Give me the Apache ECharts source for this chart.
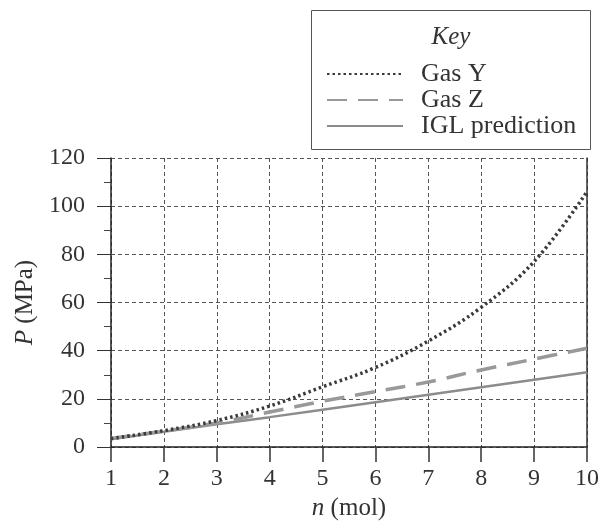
<!DOCTYPE html>
<html>
<head>
<meta charset="utf-8">
<script src="https://cdn.jsdelivr.net/npm/echarts@6/dist/echarts.min.js"></script>
<style>html,body{margin:0;padding:0;background:#fff}#c{width:602px;height:531px}</style>
</head>
<body>
<div id="c"></div>
<script>
const nMol = [1, 2, 3, 4, 5, 6, 7, 8, 9, 10];
const gasY = [3.5, 6.8, 11, 17, 25, 33, 44, 58, 77, 106];
const gasZ = [3.5, 6.6, 10, 14.5, 19, 23, 27, 32, 36.5, 41];
const igl  = [3.2, 6.3, 9.4, 12.4, 15.5, 18.6, 21.7, 24.8, 27.9, 31];
const seriesNames = ['Gas Y', 'Gas Z', 'IGL prediction'];
const xTicks = [1, 10, 1];
const yTicks = [0, 120, 20];

const pairs = v => nMol.map((n, i) => [n, v[i]]);
const serif = '"Liberation Serif", "DejaVu Serif", serif';

const chart = echarts.init(document.getElementById('c'));
chart.setOption({
  animation: false,
  backgroundColor: '#fff',
  textStyle: { fontFamily: serif },
  grid: { left: 111, right: 14, top: 158, bottom: 84 },
  title: {
    text: 'Key', left: 451, top: 25, textAlign: 'center', padding: 0,
    textStyle: { fontFamily: serif, fontStyle: 'italic', fontWeight: 'normal', fontSize: 25, color: '#333' }
  },
  graphic: [{
    type: 'rect', shape: { x: 311.5, y: 10.5, width: 279, height: 139 },
    style: { fill: '#fff', stroke: '#555', lineWidth: 1 }, z: -1
  }],
  legend: {
    orient: 'vertical', left: 326, top: 61, padding: 0,
    itemWidth: 76, itemHeight: 16, itemGap: 0,
    data: seriesNames,
    itemStyle: { color: 'rgba(0,0,0,0)', borderWidth: 0, opacity: 0 },
    textStyle: { fontFamily: serif, fontSize: 26, color: '#333', padding: [0, 0, 0, 13] }
  },
  xAxis: {
    type: 'value', min: xTicks[0], max: xTicks[1], interval: xTicks[2],
    name: '{i|n} (mol)', nameLocation: 'middle', nameGap: 44,
    nameTextStyle: { fontFamily: serif, fontSize: 25, color: '#333',
      rich: { i: { fontFamily: serif, fontStyle: 'italic', fontSize: 25, color: '#333' } } },
    axisLine: { lineStyle: { color: '#222', width: 1.5 } },
    axisTick: { length: 15, lineStyle: { color: '#333', width: 1.5 } },
    axisLabel: { margin: 20, fontFamily: serif, fontSize: 24, color: '#333' },
    splitLine: { show: true, lineStyle: { color: '#555', width: 1, type: [4, 3] } }
  },
  yAxis: [{
    type: 'value', min: yTicks[0], max: yTicks[1], interval: yTicks[2],
    name: '{i|P} (MPa)', nameLocation: 'middle', nameGap: 73, nameRotate: 90,
    nameTextStyle: { fontFamily: serif, fontSize: 25, color: '#333',
      rich: { i: { fontFamily: serif, fontStyle: 'italic', fontSize: 25, color: '#333' } } },
    axisLine: { show: true, lineStyle: { color: '#222', width: 1.5 } },
    axisTick: { show: true, length: 14, lineStyle: { color: '#333', width: 1 } },
    minorTick: { show: true, splitNumber: 2, length: 7, lineStyle: { color: '#444' } },
    axisLabel: { margin: 26, fontFamily: serif, fontSize: 24, color: '#333' },
    splitLine: { show: true, lineStyle: { color: '#555', width: 1, type: [4, 3] } }
  }, {
    type: 'value', position: 'right', min: yTicks[0], max: yTicks[1], interval: yTicks[2],
    axisLine: { show: true, lineStyle: { color: '#333', width: 1.5 } },
    axisTick: { show: false }, axisLabel: { show: false }, splitLine: { show: false }
  }],
  series: [
    { name: seriesNames[0], type: 'line', data: pairs(gasY), smooth: 0.4, symbol: 'none',
      lineStyle: { color: '#3a3a3a', width: 3.5, type: [2.5, 3] }, itemStyle: { color: '#3a3a3a' }, z: 5 },
    { name: seriesNames[1], type: 'line', data: pairs(gasZ), smooth: 0.4, symbol: 'none',
      lineStyle: { color: '#999', width: 3.5, type: [20, 11] }, itemStyle: { color: '#999' }, z: 4 },
    { name: seriesNames[2], type: 'line', data: pairs(igl), smooth: false, symbol: 'none',
      lineStyle: { color: '#8c8c8c', width: 2.5 }, itemStyle: { color: '#8c8c8c' }, z: 3 }
  ]
});
</script>
</body>
</html>
